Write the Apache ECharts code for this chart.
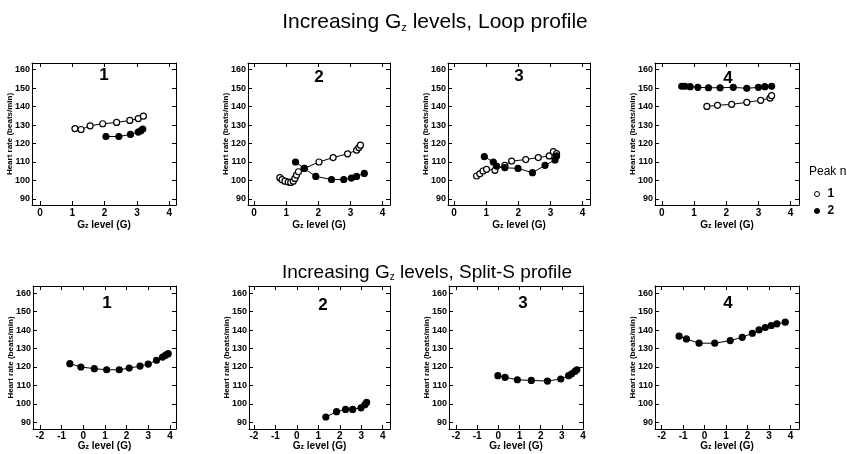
<!DOCTYPE html>
<html>
<head>
<meta charset="utf-8">
<script src="https://cdn.jsdelivr.net/npm/echarts@6/dist/echarts.min.js"></script>
<style>html,body{margin:0;padding:0;background:#fff}#c{width:847px;height:454px}</style>
</head>
<body>
<div id="c"></div>
<script>
// ---- data ----
const xTicksLoop = [0, 1, 2, 3, 4];
const xTicksSplit = [-2, -1, 0, 1, 2, 3, 4];
const yTicks = [90, 100, 110, 120, 130, 140, 150, 160];
const panelLabels = ['1', '2', '3', '4'];
const legendNames = ['1', '2'];

const loop1Peak1 = [[1.08,128.1],[1.27,127.6],[1.55,129.6],[1.94,130.7],[2.37,131.4],[2.78,132.5],[3.04,133.5],[3.2,134.8]];
const loop1Peak2 = [[2.04,123.8],[2.44,123.8],[2.8,124.9],[3.04,126.2],[3.12,126.9],[3.18,127.8]];
const loop2Peak1 = [[0.8,101.5],[0.87,100.4],[0.96,99.6],[1.06,99.1],[1.14,98.9],[1.22,99.6],[1.27,101.1],[1.32,102.9],[1.38,104.7],[1.56,106.5],[2.02,110],[2.46,112.4],[2.91,114.4],[3.19,116.4],[3.26,117.8],[3.31,119.1]];
const loop2Peak2 = [[1.29,110],[1.56,106.5],[1.92,102.2],[2.41,100.5],[2.79,100.5],[3.03,101.3],[3.19,102.2],[3.43,103.8]];
const loop3Peak1 = [[0.7,102.4],[0.8,103.6],[0.9,105.1],[1.01,106],[1.27,105.5],[1.58,108.2],[1.79,110.5],[2.23,111.3],[2.62,112.4],[2.96,113.3],[3.09,115.6],[3.19,114.5]];
const loop3Peak2 = [[0.94,112.9],[1.22,110],[1.32,107.8],[1.58,106.9],[1.99,106.5],[2.44,104.2],[2.83,108.2],[3.14,111.1],[3.19,113.3]];
const loop4Peak1 = [[1.40,140.1],[1.73,140.7],[2.17,141.2],[2.64,142.3],[3.07,143.4],[3.36,144.6],[3.41,145.9]];
const loop4Peak2 = [[0.62,151],[0.72,151],[0.88,150.8],[1.12,150.4],[1.45,150.2],[1.81,150.2],[2.22,150.4],[2.64,149.9],[3.0,150.4],[3.2,150.8],[3.41,151]];
const split1 = [[-0.62,121.8],[-0.11,120],[0.51,119.1],[1.08,118.5],[1.66,118.5],[2.12,119.4],[2.62,120.5],[3.0,121.6],[3.38,123.6],[3.66,125.4],[3.8,126.4],[3.92,127.2]];
const split2 = [[1.35,92.9],[1.85,95.8],[2.27,97],[2.6,97],[2.99,97.9],[3.17,99.6],[3.25,100.8]];
const split3 = [[-0.02,115.3],[0.32,114.4],[0.9,113.1],[1.56,112.7],[2.32,112.4],[2.95,113.5],[3.32,115.3],[3.46,116.3],[3.62,117.6],[3.71,118.5]];
const split4 = [[-1.19,136.7],[-0.85,135.2],[-0.26,132.9],[0.47,132.9],[1.19,134.3],[1.75,136.1],[2.22,138.3],[2.53,140.1],[2.82,141.4],[3.1,142.5],[3.36,143.4],[3.75,144.3]];

// ---- layout ----
const FONT = 'Liberation Sans, Arial, Helvetica, sans-serif';
const panels = [
  {l:32, w:144, t:63, h:142, xmin:-0.25, xmax:4.21, ticks:xTicksLoop, row:0, num:[104,75], series:[[loop1Peak1,1],[loop1Peak2,2]]},
  {l:248, w:142, t:63, h:142, xmin:-0.19, xmax:4.23, ticks:xTicksLoop, row:0, num:[319,77], series:[[loop2Peak1,1],[loop2Peak2,2]]},
  {l:448, w:142, t:63, h:142, xmin:-0.19, xmax:4.23, ticks:xTicksLoop, row:0, num:[519,76], series:[[loop3Peak1,1],[loop3Peak2,2]]},
  {l:655, w:144, t:63, h:142, xmin:-0.21, xmax:4.26, ticks:xTicksLoop, row:0, num:[728,78], series:[[loop4Peak1,1],[loop4Peak2,2]]},
  {l:33, w:143, t:286, h:143, xmin:-2.32, xmax:4.28, ticks:xTicksSplit, row:1, num:[107,303], series:[[split1,2]]},
  {l:249, w:141, t:286, h:143, xmin:-2.23, xmax:4.34, ticks:xTicksSplit, row:1, num:[323,305], series:[[split2,2]]},
  {l:449, w:134, t:286, h:143, xmin:-2.33, xmax:4.0, ticks:xTicksSplit, row:1, num:[523,303], series:[[split3,2]]},
  {l:655, w:144, t:286, h:143, xmin:-2.31, xmax:4.39, ticks:xTicksSplit, row:1, num:[728,303], series:[[split4,2]]}
];

const grid = [], xAxis = [], yAxis = [], series = [], graphic = [];
const lineBlack = {show:true, onZero:false, lineStyle:{color:'#000', width:1}};
const tickStyle = (vals) => ({show:true, inside:true, length:4, customValues:vals, lineStyle:{color:'#000', width:1}});
const labelStyle = {fontFamily:FONT, fontSize:9, fontWeight:'bold', color:'#000'};

panels.forEach((p, i) => {
  grid.push({left:p.l, top:p.t, width:p.w, height:p.h, show:false});
  const xBase = {type:'value', gridIndex:i, min:p.xmin, max:p.xmax, splitLine:{show:false}, axisLine:lineBlack};
  xAxis.push(Object.assign({}, xBase, {
    position:'bottom', axisTick:tickStyle(p.ticks),
    axisLabel:Object.assign({customValues:p.ticks, margin:p.row ? 2 : 3}, labelStyle, {fontSize:10}),
    name:'{a|G}{s|z}{a| level (G)}', nameLocation:'middle', nameGap:p.row ? 10 : 13, nameMoveOverlap:false,
    nameTextStyle:{rich:{a:{fontFamily:FONT, fontSize:10, fontWeight:'bold', color:'#000', lineHeight:12, verticalAlign:'bottom'},
                         s:{fontFamily:FONT, fontSize:7, fontWeight:'bold', color:'#000', lineHeight:7, verticalAlign:'bottom'}}}
  }));
  xAxis.push(Object.assign({}, xBase, {position:'top', axisTick:tickStyle(p.ticks), axisLabel:{show:false}}));
  const yBase = {type:'value', gridIndex:i, min:p.row ? 86.4 : 86.7, max:p.row ? 163.9 : 163.6, splitLine:{show:false}, axisLine:lineBlack};
  yAxis.push(Object.assign({}, yBase, {
    position:'left', axisTick:tickStyle(yTicks),
    axisLabel:Object.assign({customValues:yTicks, margin:2}, labelStyle),
    name:'Heart rate (beats/min)', nameLocation:'middle', nameGap:18, nameMoveOverlap:false,
    nameTextStyle:{fontFamily:FONT, fontSize:8, fontWeight:'bold', color:'#000'}
  }));
  yAxis.push(Object.assign({}, yBase, {position:'right', axisTick:tickStyle(yTicks), axisLabel:{show:false}}));
  p.series.forEach(([data, peak]) => {
    series.push({
      type:'line', name:legendNames[peak-1], xAxisIndex:2*i, yAxisIndex:2*i, data:data,
      symbol:'circle', symbolSize:6, showSymbol:true,
      lineStyle:{color:'#000', width:1},
      itemStyle:{color: peak === 1 ? '#fff' : '#000', borderColor:'#000', borderWidth:1.2},
      emphasis:{disabled:true}, silent:true
    });
  });
  graphic.push({type:'text', x:p.num[0], y:p.num[1], silent:true,
    style:{text:panelLabels[i % 4], fill:'#000', font:'bold 17px ' + FONT, align:'center', verticalAlign:'middle'}});
});

const makeRich = (size) => ({
  a:{fontFamily:FONT, fontSize:size, color:'#000', lineHeight:size + 5, verticalAlign:'bottom'},
  s:{fontFamily:FONT, fontSize:Math.round(size * 0.5), color:'#000', lineHeight:Math.round(size * 0.5), verticalAlign:'bottom'}
});
graphic.push({type:'text', x:435, y:20, silent:true,
  style:{text:'{a|Increasing G}{s|z}{a| levels, Loop profile}', rich:makeRich(21), align:'center', verticalAlign:'middle'}});
graphic.push({type:'text', x:427, y:270, silent:true,
  style:{text:'{a|Increasing G}{s|z}{a| levels, Split-S profile}', rich:makeRich(19), align:'center', verticalAlign:'middle'}});
graphic.push({type:'text', x:809, y:172, silent:true,
  style:{text:'Peak n', fill:'#000', font:'12px ' + FONT, align:'left', verticalAlign:'middle'}});

const chart = echarts.init(document.getElementById('c'), null, {renderer:'canvas'});
chart.setOption({
  animation:false,
  backgroundColor:'#fff',
  grid, xAxis, yAxis, series, graphic,
  legend:{
    left:809, top:183, orient:'vertical', icon:'circle', itemWidth:5, itemHeight:5, itemGap:5,
    selectedMode:false,
    textStyle:{fontFamily:FONT, fontSize:12, fontWeight:'bold', color:'#000', padding:[0,0,0,3]},
    data:[
      {name:'1', itemStyle:{color:'#fff', borderColor:'#000', borderWidth:1}},
      {name:'2', itemStyle:{color:'#000', borderColor:'#000', borderWidth:1}}
    ]
  }
});
</script>
</body>
</html>
